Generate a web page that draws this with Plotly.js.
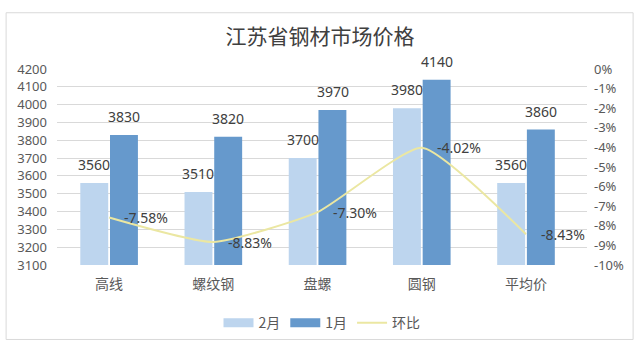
<!DOCTYPE html>
<html>
<head>
<meta charset="utf-8">
<script src="https://cdn.plot.ly/plotly-3.0.1.min.js"></script>
<style>html,body{margin:0;padding:0;background:#fff;}#chart{width:640px;height:351px;}</style>
</head>
<body>
<div id="chart"></div>
<script>
const categories = ["高线", "螺纹钢", "盘螺", "圆钢", "平均价"];
const feb = [3560, 3510, 3700, 3980, 3560];
const jan = [3830, 3820, 3970, 4140, 3860];
const mom = [-7.58, -8.83, -7.30, -4.02, -8.43];
const leftTicks = [3100, 3200, 3300, 3400, 3500, 3600, 3700, 3800, 3900, 4000, 4100, 4200];
const rightTicks = [0, -1, -2, -3, -4, -5, -6, -7, -8, -9, -10];

const font = "'Noto Sans', 'Noto Sans CJK SC', sans-serif";
const cjkFont = "'Noto Sans CJK SC', 'Noto Sans', sans-serif";
const textCol = "#595959";
const febCol = "#bdd5ee";
const janCol = "#6699cc";
const lineCol = "#ebe7a2";

const traces = [
  {type: "bar", name: "2月", x: categories, y: feb, marker: {color: febCol}, showlegend: false},
  {type: "bar", name: "1月", x: categories, y: jan, marker: {color: janCol}, showlegend: false},
  {type: "scatter", mode: "lines", name: "环比", x: categories, y: mom, yaxis: "y2",
   line: {color: lineCol, width: 2, shape: "spline", smoothing: 0.5}, showlegend: false},
  // legend entries (wide swatches like the original)
  {type: "scatter", mode: "lines", name: "2月", x: [null], y: [null], line: {color: febCol, width: 9}},
  {type: "scatter", mode: "lines", name: "1月", x: [null], y: [null], line: {color: janCol, width: 9}},
  {type: "scatter", mode: "lines", name: "环比", x: [null], y: [null], line: {color: lineCol, width: 2}}
];

const annotations = [];
categories.forEach((c, i) => {
  annotations.push({x: c, y: feb[i], xref: "x", yref: "y", text: String(feb[i]), showarrow: false,
    xanchor: "center", yanchor: "bottom", xshift: -15, yshift: 7, font: {size: 14, color: "#404040"}});
  annotations.push({x: c, y: jan[i], xref: "x", yref: "y", text: String(jan[i]), showarrow: false,
    xanchor: "center", yanchor: "bottom", xshift: 15, yshift: 7, font: {size: 14, color: "#404040"}});
  annotations.push({x: c, y: mom[i], xref: "x", yref: "y2", text: mom[i].toFixed(2) + "%", showarrow: false,
    xanchor: "left", yanchor: "middle", xshift: 13, yshift: 0, font: {size: 14, color: "#404040"}});
});

const layout = {
  width: 640, height: 351,
  margin: {l: 57, r: 53, t: 69, b: 81},
  paper_bgcolor: "#fff", plot_bgcolor: "#fff",
  font: {family: font, color: textCol, size: 13},
  title: {text: "江苏省钢材市场价格", x: 0.5, xanchor: "center", y: 0.895, yanchor: "middle",
          font: {size: 21, color: "#404040", family: cjkFont}},
  barmode: "group", bargap: 0.43, bargroupgap: 0.06,
  showlegend: true,
  legend: {orientation: "h", x: 0.5, xanchor: "center", y: -0.215, yanchor: "top",
           font: {size: 14, color: textCol, family: cjkFont}, traceorder: "normal", itemwidth: 30},
  annotations: annotations,
  xaxis: {type: "category", showgrid: false, showline: false, ticks: "", zeroline: false,
          tickfont: {size: 14, color: textCol, family: cjkFont}, ticklabelstandoff: 9},
  yaxis: {range: [3100, 4200], tickvals: leftTicks, ticktext: leftTicks.map(String),
          showgrid: true, gridcolor: "#d9d9d9", zeroline: false, showline: false,
          tickfont: {size: 13, color: textCol}, ticklabelstandoff: 9},
  yaxis2: {overlaying: "y", side: "right", range: [-10, 0], tickvals: rightTicks,
           ticktext: rightTicks.map(v => v + "%"), showgrid: false, zeroline: false,
           showline: false, tickfont: {size: 13, color: textCol}, ticklabelstandoff: 6},
  shapes: [{type: "rect", xref: "paper", yref: "paper",
            x0: -0.096, x1: 1.087, y0: -0.38, y1: 1.287,
            line: {color: "#d9d9d9", width: 1}, fillcolor: "rgba(0,0,0,0)"}]
};

Plotly.newPlot("chart", traces, layout, {displayModeBar: false, staticPlot: true});
</script>
</body>
</html>
